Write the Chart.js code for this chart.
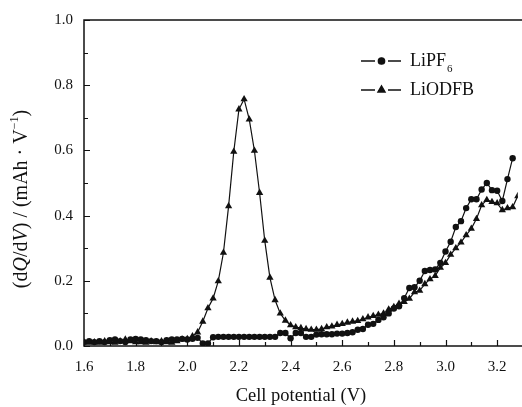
<!DOCTYPE html>
<html>
<head>
<meta charset="utf-8">
<script src="https://cdn.jsdelivr.net/npm/chart.js@4.4.0/dist/chart.umd.min.js"></script>
<style>
html,body{margin:0;padding:0;background:#fff;}
#wrap{width:522px;height:407px;position:relative;}
</style>
</head>
<body>
<div id="wrap"><canvas id="c" width="522" height="407"></canvas></div>
<script>
// Cell potential (V)
const potential = [
 1.60,1.62,1.64,1.66,1.68,1.70,1.72,1.74,1.76,1.78,
 1.80,1.82,1.84,1.86,1.88,1.90,1.92,1.94,1.96,1.98,
 2.00,2.02,2.04,2.06,2.08,2.10,2.12,2.14,2.16,2.18,
 2.20,2.22,2.24,2.26,2.28,2.30,2.32,2.34,2.36,2.38,
 2.40,2.42,2.44,2.46,2.48,2.50,2.52,2.54,2.56,2.58,
 2.60,2.62,2.64,2.66,2.68,2.70,2.72,2.74,2.76,2.78,
 2.80,2.82,2.84,2.86,2.88,2.90,2.92,2.94,2.96,2.98,
 3.00,3.02,3.04,3.06,3.08,3.10,3.12,3.14,3.16,3.18,
 3.20,3.22,3.24,3.26,3.28
];
// dQ/dV, LiPF6 (circles)
const lipf6 = [
 0.012,0.015,0.012,0.015,0.012,0.018,0.020,0.015,0.012,0.020,
 0.022,0.020,0.018,0.015,0.015,0.012,0.018,0.020,0.020,0.022,
 0.020,0.022,0.025,0.008,0.008,0.027,0.028,0.028,0.028,0.028,
 0.028,0.028,0.028,0.028,0.028,0.028,0.028,0.028,0.040,0.040,
 0.024,0.040,0.040,0.028,0.028,0.035,0.036,0.036,0.036,0.038,
 0.038,0.040,0.042,0.050,0.052,0.065,0.068,0.080,0.088,0.100,
 0.115,0.122,0.147,0.178,0.180,0.200,0.230,0.233,0.235,0.255,
 0.290,0.320,0.365,0.383,0.423,0.450,0.450,0.480,0.500,0.478,
 0.476,0.445,0.512,0.576,null
];
// dQ/dV, LiODFB (triangles)
const liodfb = [
 0.012,0.010,0.012,0.010,0.015,0.012,0.010,0.015,0.020,0.015,
 0.012,0.012,0.010,0.015,0.012,0.015,0.012,0.010,0.015,0.020,
 0.022,0.030,0.042,0.075,0.116,0.146,0.199,0.286,0.429,0.596,
 0.726,0.757,0.695,0.599,0.470,0.323,0.210,0.141,0.100,0.078,
 0.064,0.058,0.055,0.052,0.050,0.050,0.052,0.058,0.060,0.065,
 0.068,0.072,0.075,0.077,0.082,0.088,0.092,0.096,0.100,0.112,
 0.120,0.130,0.135,0.145,0.165,0.170,0.190,0.205,0.215,0.240,
 0.255,0.280,0.300,0.318,0.340,0.360,0.390,0.432,0.448,0.442,
 0.438,0.417,0.423,0.426,0.460
];
const seriesNames = ['LiPF', 'LiODFB'];
const xTickValues = [1.6,1.8,2.0,2.2,2.4,2.6,2.8,3.0,3.2];
const yTickValues = [0.0,0.2,0.4,0.6,0.8,1.0];
const xMinorTicks = [1.7,1.9,2.1,2.3,2.5,2.7,2.9,3.1];
const yMinorTicks = [0.1,0.3,0.5,0.7,0.9];
const xTitle = 'Cell potential (V)';

const FONT = '"Liberation Serif","Times New Roman",serif';
const INK = '#111';

function toPts(ys){ return potential.map((x,i)=>({x:x,y:ys[i]})); }

const framePlugin = {
  id:'frame',
  afterDatasetsDraw(chart){
    const ctx = chart.ctx, a = chart.chartArea;
    const xs = chart.scales.x, ys = chart.scales.y;
    ctx.save();
    ctx.strokeStyle = INK;
    ctx.lineWidth = 1.5;
    ctx.strokeRect(a.left, a.top, a.right - a.left + 5, a.bottom - a.top);
    ctx.lineWidth = 1.2;
    ctx.beginPath();
    yTickValues.forEach(v=>{const p=Math.round(ys.getPixelForValue(v))+0.5; ctx.moveTo(a.left,p); ctx.lineTo(a.left+6,p);});
    yMinorTicks.forEach(v=>{const p=Math.round(ys.getPixelForValue(v))+0.5; ctx.moveTo(a.left,p); ctx.lineTo(a.left+4,p);});
    xTickValues.forEach(v=>{const p=Math.round(xs.getPixelForValue(v))+0.5; ctx.moveTo(p,a.bottom); ctx.lineTo(p,a.bottom-6);});
    xMinorTicks.forEach(v=>{const p=Math.round(xs.getPixelForValue(v))+0.5; ctx.moveTo(p,a.bottom); ctx.lineTo(p,a.bottom-4);});
    ctx.stroke();

    // legend
    const lx = 361, lw = 40;
    const rows = [{y:61, style:'circle', r:3.2}, {y:90, style:'triangle', r:4.2}];
    rows.forEach((row,i)=>{
      ctx.lineWidth = 1.3;
      ctx.beginPath();
      ctx.moveTo(lx, row.y); ctx.lineTo(lx+14, row.y);
      ctx.moveTo(lx+27, row.y); ctx.lineTo(lx+lw, row.y);
      ctx.stroke();
      ctx.fillStyle = INK;
      Chart.helpers.drawPoint(ctx, {pointStyle: row.style, radius: row.r, borderWidth:1}, lx+20.5, row.y);
      ctx.fillStyle = INK;
      ctx.font = '18px ' + FONT;
      ctx.textBaseline = 'middle';
      ctx.textAlign = 'left';
      ctx.fillText(seriesNames[i], 410, row.y);
      if(i===0){
        const w = ctx.measureText(seriesNames[i]).width;
        ctx.font = '11px ' + FONT;
        ctx.fillText('6', 410 + w + 1, row.y + 8);
      }
    });

    // y axis title with italic symbols
    const parts = [
      ['(d', '', 20, 0], ['Q', 'italic ', 20, 0], ['/d', '', 20, 0], ['V', 'italic ', 20, 0],
      [') / (mAh ', '', 20, 0], ['\u00B7', '', 20, 0], [' V', '', 20, 0], ['\u22121', '', 12, -7], [')', '', 20, 0]
    ];
    let total = 0;
    parts.forEach(p=>{ ctx.font = p[1] + p[2] + 'px ' + FONT; total += ctx.measureText(p[0]).width; });
    ctx.translate(22, 199);
    ctx.rotate(-Math.PI/2);
    let cx = -total/2;
    ctx.textBaseline = 'middle';
    parts.forEach(p=>{
      ctx.font = p[1] + p[2] + 'px ' + FONT;
      ctx.fillText(p[0], cx, p[3]);
      cx += ctx.measureText(p[0]).width;
    });
    ctx.restore();
  }
};

new Chart(document.getElementById('c'), {
  type: 'line',
  data: {
    datasets: [
      {label:'LiPF6', data: toPts(lipf6), borderColor:INK, backgroundColor:INK, borderWidth:1.2,
       pointStyle:'circle', pointRadius:3.2, pointBorderWidth:0, tension:0, spanGaps:false},
      {label:'LiODFB', data: toPts(liodfb), borderColor:INK, backgroundColor:INK, borderWidth:1.2,
       pointStyle:'triangle', pointRadius:4.2, pointBorderWidth:0, tension:0}
    ]
  },
  options: {
    responsive:false, animation:false,
    layout:{padding:{top:20, right:0, left:0, bottom:0}},
    plugins:{legend:{display:false}, tooltip:{enabled:false}},
    scales:{
      x:{type:'linear', min:1.6, max:3.28,
         afterBuildTicks(s){ s.ticks = xTickValues.map(v=>({value:v})); },
         afterFit(s){ s.height = 61; },
         grid:{display:false, drawTicks:false}, border:{display:false},
         ticks:{padding:12, color:INK, font:{family:FONT, size:15}, callback:v=>v.toFixed(1), maxRotation:0},
         title:{display:true, text:xTitle, color:INK, font:{family:FONT, size:18.5}, padding:{top:0, bottom:0}}
      },
      y:{type:'linear', min:0, max:1.0,
         afterBuildTicks(s){ s.ticks = yTickValues.map(v=>({value:v})); },
         afterFit(s){ s.width = 84; },
         grid:{display:false, drawTicks:false}, border:{display:false},
         ticks:{padding:11, color:INK, font:{family:FONT, size:15}, callback:v=>v.toFixed(1)}
      }
    }
  },
  plugins:[framePlugin]
});
</script>
</body>
</html>
